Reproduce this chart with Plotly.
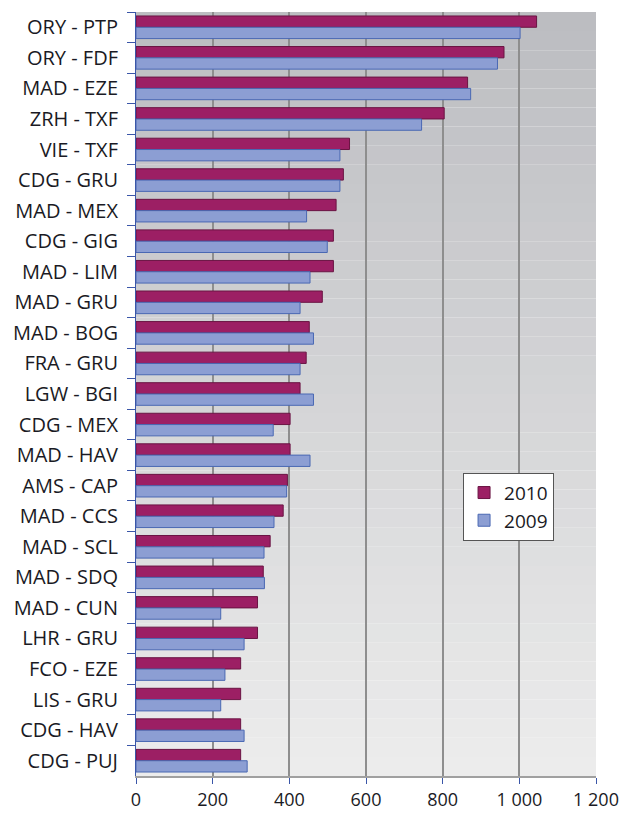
import plotly.graph_objects as go

routes = ["ORY - PTP", "ORY - FDF", "MAD - EZE", "ZRH - TXF", "VIE - TXF", "CDG - GRU",
          "MAD - MEX", "CDG - GIG", "MAD - LIM", "MAD - GRU", "MAD - BOG", "FRA - GRU",
          "LGW - BGI", "CDG - MEX", "MAD - HAV", "AMS - CAP", "MAD - CCS", "MAD - SCL",
          "MAD - SDQ", "MAD - CUN", "LHR - GRU", "FCO - EZE", "LIS - GRU", "CDG - HAV",
          "CDG - PUJ"]
values_2010 = [1045, 960, 865, 804, 557, 541, 522, 515, 515, 486, 452, 444, 428, 402, 402,
               395, 384, 350, 332, 317, 317, 273, 273, 273, 273]
values_2009 = [1002, 943, 873, 745, 532, 532, 445, 499, 454, 428, 463, 428, 463, 358, 454,
               393, 360, 334, 335, 221, 282, 232, 221, 282, 290]
tick_vals = [0, 200, 400, 600, 800, 1000, 1200]
tick_text = ["0", "200", "400", "600", "800", "1 000", "1 200"]

fig = go.Figure()
fig.add_trace(go.Bar(
    y=routes, x=values_2010, name="2010", orientation="h",
    marker=dict(color="#9C1F64", line=dict(color="#6A1443", width=1)),
))
fig.add_trace(go.Bar(
    y=routes, x=values_2009, name="2009", orientation="h",
    marker=dict(color="#8C9ED3", line=dict(color="#4A68B3", width=1)),
))

# vertical gradient background for the plot area
shapes = []
n = 40
top = (188, 189, 193)
bot = (236, 236, 236)
for i in range(n):
    t = i / (n - 1)
    c = tuple(int(round(top[k] + (bot[k] - top[k]) * t)) for k in range(3))
    shapes.append(dict(type="rect", xref="paper", yref="paper",
                       x0=0, x1=1, y0=1 - (i + 1) / n, y1=1 - i / n,
                       fillcolor="rgb(%d,%d,%d)" % c, line=dict(width=0), layer="below"))

fig.update_layout(
    width=635, height=806,
    margin=dict(l=128, r=47, t=4, b=38),
    paper_bgcolor="white",
    plot_bgcolor="rgba(0,0,0,0)",
    barmode="group", bargap=0.26, bargroupgap=0.0,
    shapes=shapes,
    font=dict(family="Open Sans, DejaVu Sans, sans-serif", color="#1a1a24"),
    showlegend=True,
    legend=dict(x=0.711, y=0.397, xanchor="left", yanchor="top",
                bgcolor="white", bordercolor="#555555", borderwidth=1,
                font=dict(size=19, color="#1a1a24"), traceorder="normal",
                tracegroupgap=6, itemwidth=30),
    xaxis=dict(range=[0, 1200], tickvals=tick_vals, ticktext=tick_text,
               showgrid=True, gridcolor="#8e8e8e", gridwidth=1.5,
               zeroline=False, showline=True, linecolor="#a0a0a0", linewidth=2,
               ticks="outside", tickcolor="#3a56a8", ticklen=6,
               automargin=False,
               tickfont=dict(size=18, color="#1a1a24")),
    yaxis=dict(autorange="reversed", showgrid=False, zeroline=False,
               showline=True, linecolor="#3a56a8", linewidth=1,
               ticks="outside", tickson="boundaries", tickcolor="#3a56a8", ticklen=8,
               ticklabelstandoff=13, automargin=False,
               tickfont=dict(size=20, color="#1a1a24")),
)

fig.write_html("out.html")
